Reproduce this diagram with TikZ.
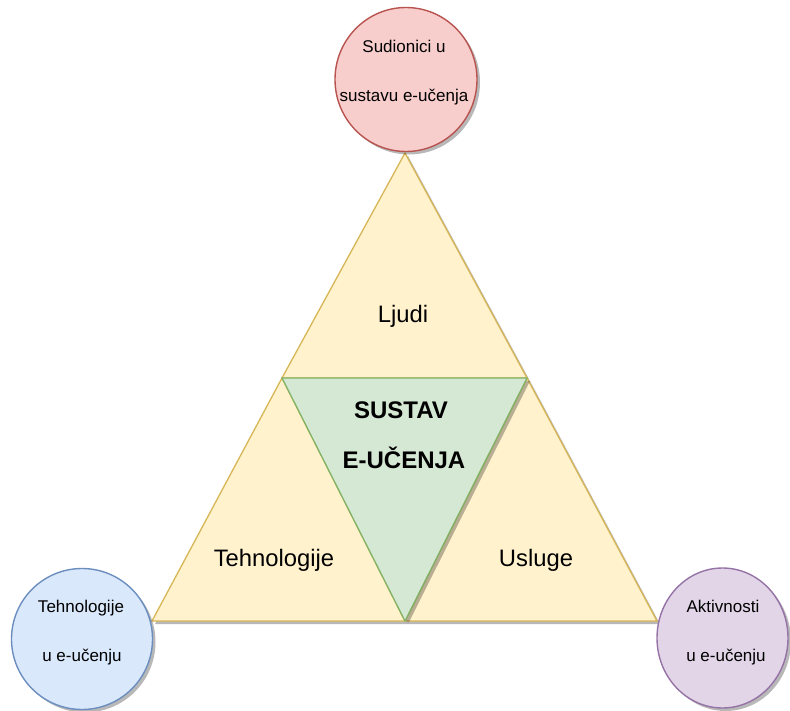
\documentclass[tikz,border=0pt]{standalone}
\usepackage{fontspec}
\setmainfont{Liberation Sans}
\usetikzlibrary{shapes.geometric,shadows}
\definecolor{yfill}{HTML}{FFF2CC}
\definecolor{ydraw}{HTML}{D6B656}
\definecolor{gfill}{HTML}{D5E8D4}
\definecolor{gdraw}{HTML}{82B366}
\definecolor{rfill}{HTML}{F8CECC}
\definecolor{rdraw}{HTML}{B85450}
\definecolor{bfill}{HTML}{DAE8FC}
\definecolor{bdraw}{HTML}{6C8EBF}
\definecolor{pfill}{HTML}{E1D5E7}
\definecolor{pdraw}{HTML}{9673A6}
\tikzset{
  shad/.style={drop shadow={shadow xshift=3pt,shadow yshift=-3pt,fill=black,opacity=0.28}},
  ytri/.style={fill=yfill,draw=ydraw,line width=1.3pt,line join=miter,shad},
  gtri/.style={fill=gfill,draw=gdraw,line width=1.3pt,line join=miter,shad},
  bubble/.style={ellipse,line width=1.4pt,shad,inner sep=0pt},
  small/.style={font=\fontsize{17}{20}\selectfont,anchor=base,inner sep=0pt},
  big/.style={font=\fontsize{23.8}{27}\selectfont,anchor=base,inner sep=0pt},
  bigb/.style={font=\fontsize{24}{27}\selectfont\bfseries,anchor=base,inner sep=0pt},
}
\begin{document}
\begin{tikzpicture}[x=1pt,y=-1pt]
\useasboundingbox (0,0) rectangle (790,711);
\coordinate (A) at (405,153);
\coordinate (B) at (282,378);
\coordinate (C) at (527,378);
\coordinate (L) at (152,621);
\coordinate (M) at (405,621);
\coordinate (R) at (657,621);
% triangles
\path[ytri] (A) -- (B) -- (C) -- cycle;
\path[ytri] (B) -- (L) -- (M) -- cycle;
\path[ytri] (C) -- (M) -- (R) -- cycle;
\path[gtri] (B) -- (C) -- (M) -- cycle;
% circles
\node[bubble,fill=rfill,draw=rdraw,minimum width=142pt,minimum height=144pt] (top) at (406,79.5) {};
\node[bubble,fill=bfill,draw=bdraw,minimum width=141pt,minimum height=141pt] (left) at (82,639) {};
\node[bubble,fill=pfill,draw=pdraw,minimum width=131pt,minimum height=140pt] (right) at (722.5,638) {};
% texts
\node[big] (ljudi) at (403,323) {Ljudi};
\node[big] (teh) at (274,566) {Tehnologije};
\node[big] (usl) at (536,566) {Usluge};
\node[bigb] (s1) at (401,418) {SUSTAV};
\node[bigb] (s2) at (404,468) {E-UČENJA};
\node[small] (t1) at (404,53) {Sudionici u};
\node[small] (t2) at (404,102) {sustavu e-učenja};
\node[small] (b1) at (81,612) {Tehnologije};
\node[small] (b2) at (82,661) {u e-učenju};
\node[small] (p1) at (723,612) {Aktivnosti};
\node[small] (p2) at (726,661) {u e-učenju};
\end{tikzpicture}
\end{document}
